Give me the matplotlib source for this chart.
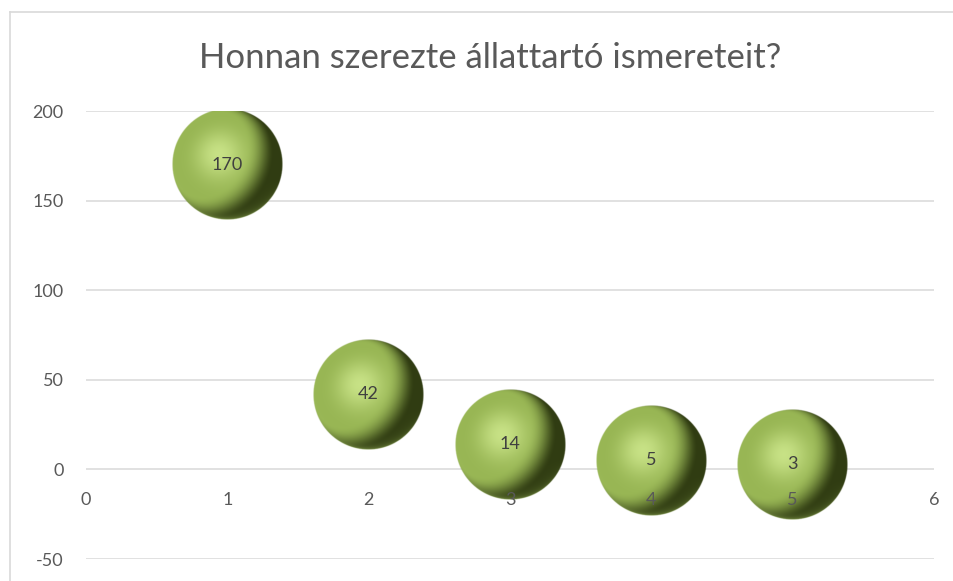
import numpy as np
import matplotlib
matplotlib.use("Agg")
import matplotlib.pyplot as plt
from matplotlib.lines import Line2D

# ---- data ----
x_vals = [1, 2, 3, 4, 5]
y_vals = [170, 42, 14, 5, 3]
bubble_sizes = [1, 1, 1, 1, 1]
point_labels = ["170", "42", "14", "5", "3"]
x_ticks = [0, 1, 2, 3, 4, 5, 6]
y_ticks = [-50, 0, 50, 100, 150, 200]
title = "Honnan szerezte állattartó ismereteit?"

plt.rcParams['font.family'] = ['Lato', 'DejaVu Sans']

W, H = 954, 581
fig = plt.figure(figsize=(W / 100, H / 100), dpi=100)
fig.patch.set_facecolor('white')
ax_l, ax_r, ax_t, ax_b = 86, 934, 111, 559
ax = fig.add_axes([ax_l / W, 1 - ax_b / H, (ax_r - ax_l) / W, (ax_b - ax_t) / H])
xmin, xmax = 0, 6
ymin, ymax = -50, 200

# ---- sphere texture ----
N = 240
g = np.linspace(-1, 1, N)
u, v = np.meshgrid(g, g)          # v positive = up (origin lower)
r = np.sqrt(u ** 2 + v ** 2)
z = np.sqrt(np.clip(1 - r ** 2, 0, 1))
Ld = np.array([-0.55, 0.3, 0.78]); Ld /= np.linalg.norm(Ld)
diff = np.clip(u * Ld[0] + v * Ld[1] + z * Ld[2], 0, 1)
Ls = np.array([-0.3, 0.35, 0.89]); Ls /= np.linalg.norm(Ls)
Hh = Ls + np.array([0, 0, 1.0]); Hh /= np.linalg.norm(Hh)
spec = np.clip(u * Hh[0] + v * Hh[1] + z * Hh[2], 0, 1) ** 10


def smoothstep(a, e0, e1):
    t = np.clip((a - e0) / (e1 - e0), 0, 1)
    return t * t * (3 - 2 * t)


c_dark = np.array([48, 60, 18]) / 255
c_mid = np.array([152, 182, 84]) / 255
c_hi = np.array([215, 240, 150]) / 255
c_rim = np.array([160, 190, 95]) / 255
t = smoothstep(diff, 0.0, 0.6)[..., None]
col = c_dark + (c_mid - c_dark) * t
col = col + (c_hi - col) * (spec[..., None] * 0.75)
rim = (np.clip(1 - z, 0, 1) ** 3) * np.clip(-v - 0.3 * u, 0, 1)
col = col + (c_rim - col) * np.clip(rim[..., None] * 0.8, 0, 1)
alpha = np.clip((1 - r) * N / 2.5, 0, 1)
img = np.dstack([np.clip(col, 0, 1), alpha])

r_px = 55.5
sx = (ax_r - ax_l) / (xmax - xmin)
sy = (ax_b - ax_t) / (ymax - ymin)
for xv, yv, s, lab in zip(x_vals, y_vals, bubble_sizes, point_labels):
    rx = r_px * np.sqrt(s) / sx
    ry = r_px * np.sqrt(s) / sy
    ax.imshow(img, extent=(xv - rx, xv + rx, yv - ry, yv + ry), origin='lower',
              aspect='auto', interpolation='bilinear', zorder=2)
    ax.text(xv, yv, lab, ha='center', va='center', fontsize=13, color='#404040', zorder=6)

for yv in y_ticks:
    ax.axhline(yv, color='#d9d9d9', lw=1.1, zorder=0.5)

ax.set_xlim(xmin, xmax)
ax.set_ylim(ymin, ymax)
ax.set_xticks(x_ticks)
ax.set_yticks(y_ticks)
ax.set_xticklabels([str(v) for v in x_ticks])
ax.set_yticklabels([str(v) for v in y_ticks])
for s in ax.spines.values():
    s.set_visible(False)
ax.spines['bottom'].set_position(('data', 0))
ax.tick_params(axis='both', length=0, labelsize=13, labelcolor='#595959')
ax.tick_params(axis='x', pad=16)
ax.tick_params(axis='y', pad=16)
ax.set_axisbelow(False)
ax.xaxis.set_zorder(5)
ax.yaxis.set_zorder(5)
ax.set_facecolor('none')

fig.text((202 + 779) / 2 / W, 1 - 68 / H, title, ha='center', va='baseline',
         fontsize=25, color='#595959')

fig.add_artist(Line2D([10 / W, 10 / W], [0, 1 - 12 / H], color='#d9d9d9', lw=1.2))
fig.add_artist(Line2D([10 / W, 1], [1 - 12 / H, 1 - 12 / H], color='#d9d9d9', lw=1.2))

fig.savefig("out.png", dpi=100)
